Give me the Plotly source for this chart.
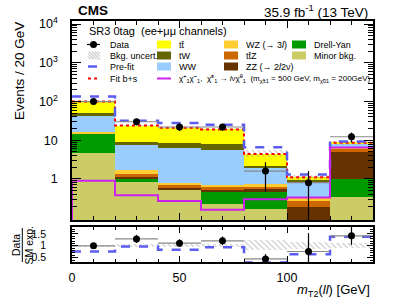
import plotly.graph_objects as go
import numpy as np

# ---------------- data ----------------
bin_edges = [0, 20, 40, 60, 80, 100, 120, 140]
bin_centers = [10, 30, 50, 70, 90, 110, 130]

# stacked fitted backgrounds (events / 20 GeV), bottom -> top
minor_bkg = [4.7, 0.84, 0.52, 0.23, 0.17, 0.02, 0.34]
drell_yan = [10.1, 0.14, 0.02, 0.24, 0.30, 0.03, 0.64]
zz_2l2v   = [0.2, 0.15, 0.05, 0.06, 0.09, 0.14, 4.0]
ttz       = [0.3, 0.19, 0.11, 0.10, 0.06, 0.08, 0.8]
wz_3l     = [0.7, 0.36, 0.09, 0.07, 0.11, 0.06, 0.8]
ww        = [27.0, 5.8, 5.5, 5.0, 1.17, 0.49, 1.8]
tw        = [9.0, 1.8, 2.0, 2.3, 0.3, 0.14, 0.1]
ttbar     = [48.0, 14.7, 12.7, 11.0, 2.2, 0.14, 0.1]

prefit_total = [135, 32, 28, 25, 6.6, 1.3, 9.3]
signal = [0.9, 0.38, 0.27, 0.16, 0.30, 0.33, 6.5]

data = [100, 30, 22, 22, 1.6, 0.8, 12.3]
data_err_up = [10, 5.5, 4.7, 4.7, 1.1, 0.8, 3.5]
data_err_dn = [10, 5.5, 4.7, 4.7, 1.13, 0.79, 3.5]

# ratio panel
ratio_data = [1.0, 1.29, 1.11, 1.21, 0.45, 0.76, 1.42]
ratio_err_up = [0.08, 0.17, 0.16, 0.18, 0.2, 0.77, 0.5]
ratio_err_dn = [0.08, 0.17, 0.16, 0.18, 0.25, 0.5, 0.38]
ratio_prefit = [0.76, 0.97, 0.83, 0.94, 0.30, 0.65, 1.38]
unc_lo = [0.96, 0.95, 0.95, 0.95, 0.83, 0.87, 0.90]
unc_hi = [1.04, 1.06, 1.06, 1.07, 1.25, 1.18, 1.11]

# ---------------- styling ----------------
FONT = "Liberation Sans, Arial, Helvetica, sans-serif"
components = [
    ("Minor bkg.", minor_bkg, "#cccc66"),
    ("Drell-Yan", drell_yan, "#009900"),
    ("ZZ", zz_2l2v, "#663300"),
    ("ttZ", ttz, "#cc6600"),
    ("WZ", wz_3l, "#ffcc33"),
    ("WW", ww, "#99ccff"),
    ("tW", tw, "#666600"),
    ("tt", ttbar, "#ffff00"),
]
C_PRE = "#5c5cf0"
C_FIT = "#ff0000"
C_SIG = "#cc22ee"

W, H = 399, 301
L, R, T, B = 72, 373, 21, 262


def PX(px):
    return (px - L) / (R - L)


def PY(py):
    return (B - py) / (B - T)


fig = go.Figure()

# stacked histogram
base = np.full(len(bin_centers), 1e-3)
for name, vals, col in components:
    v = np.array(vals, dtype=float)
    fig.add_trace(go.Bar(x=bin_centers, y=v, base=base.copy(), width=20,
                         marker=dict(color=col, line=dict(width=0)),
                         name=name, showlegend=False, xaxis="x", yaxis="y"))
    base = base + v
total = base

# uncertainty band (main)
lo = total * np.array(unc_lo)
hi = total * np.array(unc_hi)
fig.add_trace(go.Bar(x=bin_centers, y=hi - lo, base=lo, width=20,
                     marker=dict(color="rgba(0,0,0,0)", line=dict(width=0),
                                 pattern=dict(shape="\\", fgcolor="#999999",
                                              bgcolor="rgba(0,0,0,0)", size=4,
                                              solidity=0.3, fillmode="overlay")),
                     showlegend=False, xaxis="x", yaxis="y"))


def step(vals):
    return list(vals) + [vals[-1]]


# fit b+s line
fig.add_trace(go.Scatter(x=bin_edges, y=step(list(total)), mode="lines",
                         line=dict(color=C_FIT, width=2, dash="dot", shape="hv"),
                         showlegend=False, xaxis="x", yaxis="y"))
# pre-fit
fig.add_trace(go.Scatter(x=bin_edges, y=step(prefit_total), mode="lines",
                         line=dict(color=C_PRE, width=2.5, dash="dash", shape="hv"),
                         showlegend=False, xaxis="x", yaxis="y"))
# signal
fig.add_trace(go.Scatter(x=[bin_edges[0]] + bin_edges, y=[1e-3] + step(signal), mode="lines",
                         line=dict(color=C_SIG, width=2, shape="hv"),
                         showlegend=False, xaxis="x", yaxis="y"))
# data
fig.add_trace(go.Scatter(x=bin_centers, y=data, mode="markers",
                         marker=dict(color="black", size=7),
                         error_y=dict(type="data", array=data_err_up, arrayminus=data_err_dn,
                                      color="black", thickness=1.2, width=0),
                         error_x=dict(type="constant", value=10, color="#888888",
                                      thickness=1.2, width=0),
                         showlegend=False, xaxis="x", yaxis="y"))

# ratio panel
fig.add_trace(go.Bar(x=bin_centers, y=np.array(unc_hi) - np.array(unc_lo), base=unc_lo, width=20,
                     marker=dict(color="rgba(0,0,0,0)", line=dict(width=0),
                                 pattern=dict(shape="\\", fgcolor="#999999",
                                              bgcolor="rgba(0,0,0,0)", size=4,
                                              solidity=0.3, fillmode="overlay")),
                     showlegend=False, xaxis="x2", yaxis="y2"))
fig.add_trace(go.Scatter(x=bin_edges, y=step(ratio_prefit), mode="lines",
                         line=dict(color=C_PRE, width=2.5, dash="dash", shape="hv"),
                         showlegend=False, xaxis="x2", yaxis="y2"))
fig.add_trace(go.Scatter(x=bin_centers, y=ratio_data, mode="markers",
                         marker=dict(color="black", size=7),
                         error_y=dict(type="data", array=ratio_err_up, arrayminus=ratio_err_dn,
                                      color="black", thickness=1.2, width=0),
                         error_x=dict(type="constant", value=10, color="#888888",
                                      thickness=1.2, width=0),
                         showlegend=False, xaxis="x2", yaxis="y2"))

# ---------------- axes ----------------
main_lo = (B - 220) / (B - T)
ratio_hi = (B - 227) / (B - T)

minor_log = [k * 10.0 ** e for e in range(-2, 5) for k in range(2, 10)]

axis_common = dict(showline=True, linecolor="black", linewidth=1.5, mirror="ticks",
                   ticks="inside", tickcolor="black", tickwidth=1, showgrid=False,
                   zeroline=False, tickfont=dict(family=FONT, size=12.5, color="black"))

fig.update_layout(
    width=W, height=H,
    margin=dict(l=L, r=W - R, t=T, b=H - B, pad=0),
    paper_bgcolor="white", plot_bgcolor="white",
    barmode="overlay", bargap=0,
    showlegend=False,
    font=dict(family=FONT, color="black"),
    xaxis=dict(domain=[0, 1], anchor="y", range=[0, 140], showticklabels=False,
               tickvals=[0, 50, 100], ticklen=7,
               minor=dict(ticks="inside", dtick=10, ticklen=4, tickcolor="black", showgrid=False),
               **axis_common),
    yaxis=dict(domain=[main_lo, 1], anchor="x", type="log", range=[-1.06, 4.08],
               tickvals=[1, 10, 100, 1000, 10000],
               ticktext=["1", "10", "10<sup>2</sup>", "10<sup>3</sup>", "10<sup>4</sup>"],
               ticklen=9, ticklabelstandoff=10,
               minor=dict(ticks="inside", tickvals=minor_log, ticklen=5, tickcolor="black", showgrid=False),
               **axis_common),
    xaxis2=dict(domain=[0, 1], anchor="y2", range=[0, 140], matches="x",
                tickvals=[0, 50, 100], ticklen=6, ticklabelstandoff=3,
                minor=dict(ticks="inside", dtick=10, ticklen=3, tickcolor="black", showgrid=False),
                **axis_common),
    yaxis2=dict(domain=[0, ratio_hi], anchor="x2", range=[0.32, 1.79],
                tickvals=[0.5, 1, 1.5], ticktext=["0.5", "1", "1.5"], ticklen=6,
                ticklabelstandoff=22,
                minor=dict(ticks="inside", dtick=0.1, ticklen=3, tickcolor="black", showgrid=False),
                **{k: v for k, v in axis_common.items() if k != "tickfont"},
                tickfont=dict(family=FONT, size=10.5, color="black")),
)

# ---------------- texts ----------------
ann = []


def text(px, py, s, size, xanchor="left", yanchor="middle", angle=0, **kw):
    ann.append(dict(x=PX(px), y=PY(py), xref="paper", yref="paper", text=s, showarrow=False,
                    xanchor=xanchor, yanchor=yanchor, textangle=angle,
                    font=dict(family=FONT, size=size, color="black"), **kw))


text(76, 11, "<b>CMS</b>", 13.5)
text(370, 11.5, "35.9 fb<sup>-1</sup> (13 TeV)", 13.5, xanchor="right")
text(19, 71, "Events / 20 GeV", 13.5, xanchor="center", angle=-90)
text(16, 245, "Data", 10.5, xanchor="center", angle=-90)
text(28.5, 245, "SM exp.", 10.5, xanchor="center", angle=-90)
text(372, 290, "<i>m</i><sub>T2</sub>(<i>ll</i>) [GeV]", 13, xanchor="right")
text(87, 31.5, "SR3 0tag  (ee+μμ channels)", 11)

shapes = [dict(type="line", xref="paper", yref="paper", x0=PX(22.3), x1=PX(22.3),
               y0=PY(228), y1=PY(262), line=dict(color="black", width=1))]

# ---------------- legend (manual, 4 columns) ----------------
rows = [44.5, 55.5, 66.5, 78.5]
LF = 9

# column 1
shapes.append(dict(type="line", xref="paper", yref="paper", x0=PX(87), x1=PX(100),
                   y0=PY(rows[0]), y1=PY(rows[0]), line=dict(color="black", width=1.2)))
shapes.append(dict(type="circle", xref="paper", yref="paper", x0=PX(90), x1=PX(97),
                   y0=PY(rows[0] + 3.5), y1=PY(rows[0] - 3.5), fillcolor="black",
                   line=dict(color="black", width=0)))
text(108, rows[0], "Data", LF)
# hatch patch
hx0, hx1, hy0, hy1 = 88, 100, rows[1] - 4, rows[1] + 4
for c in range(-8, 13, 3):
    pts = []
    for x in (hx0, hx1):
        y = hy0 + (x - hx0) - c
        if hy0 <= y <= hy1:
            pts.append((x, y))
    for y in (hy0, hy1):
        x = hx0 + (y - hy0) + c
        if hx0 <= x <= hx1:
            pts.append((x, y))
    pts = sorted(set(pts))
    if len(pts) >= 2:
        (xa, ya), (xb, yb) = pts[0], pts[-1]
        shapes.append(dict(type="line", xref="paper", yref="paper", x0=PX(xa), x1=PX(xb),
                           y0=PY(ya), y1=PY(yb), line=dict(color="#aaaaaa", width=1)))
text(108, rows[1], "Bkg. uncert.", LF)
shapes.append(dict(type="line", xref="paper", yref="paper", x0=PX(88), x1=PX(100),
                   y0=PY(rows[2]), y1=PY(rows[2]), line=dict(color=C_PRE, width=2.5, dash="dash")))
text(108, rows[2], "Pre-fit", LF)
shapes.append(dict(type="line", xref="paper", yref="paper", x0=PX(88), x1=PX(100),
                   y0=PY(rows[3]), y1=PY(rows[3]), line=dict(color=C_FIT, width=2, dash="dot")))
text(108, rows[3], "Fit b+s", LF)

colmap = {name: col for name, _, col in components}


def patch(x0, row, col):
    shapes.append(dict(type="rect", xref="paper", yref="paper", x0=PX(x0), x1=PX(x0 + 14),
                       y0=PY(row + 4), y1=PY(row - 4), fillcolor=col, line=dict(width=0)))


patch(157, rows[0], colmap["tt"]); text(177, rows[0], "tt\u0304", LF)
patch(157, rows[1], colmap["tW"]); text(177, rows[1], "tW", LF)
patch(157, rows[2], colmap["WW"]); text(177, rows[2], "WW", LF)
patch(224, rows[0], colmap["WZ"]); text(244, rows[0], "WZ (\u2192 3<i>l</i>)", LF)
patch(224, rows[1], colmap["ttZ"]); text(244, rows[1], "tt\u0304Z", LF)
patch(224, rows[2], colmap["ZZ"]); text(244, rows[2], "ZZ (\u2192 2<i>l</i>2\u03bd)", LF)
patch(292, rows[0], colmap["Drell-Yan"]); text(312, rows[0], "Drell-Yan", LF)
patch(292, rows[1], colmap["Minor bkg."]); text(312, rows[1], "Minor bkg.", LF)

shapes.append(dict(type="line", xref="paper", yref="paper", x0=PX(157), x1=PX(171),
                   y0=PY(rows[3]), y1=PY(rows[3]), line=dict(color=C_SIG, width=2)))
chi = "\u03c7\u0303"
sig_label = (f"{chi}<sup>+</sup><sub>1</sub>{chi}<sup>\u2212</sup><sub>1</sub>,  "
             f"{chi}<sup>\u00b1</sup><sub>1</sub> \u2192 <i>l</i>\u03bd{chi}<sup>0</sup><sub>1</sub>  "
             f"(m<sub>{chi}\u00b11</sub> = 500 GeV, m<sub>{chi}01</sub> = 200GeV)")
text(177, rows[3], sig_label, 8)

fig.update_layout(annotations=ann, shapes=shapes)

# the page's default body margin would offset the figure by 8 px
fig.write_html("out.html", config={"displayModeBar": False},
               post_script="document.body.style.margin='0';document.body.style.overflow='hidden';")
